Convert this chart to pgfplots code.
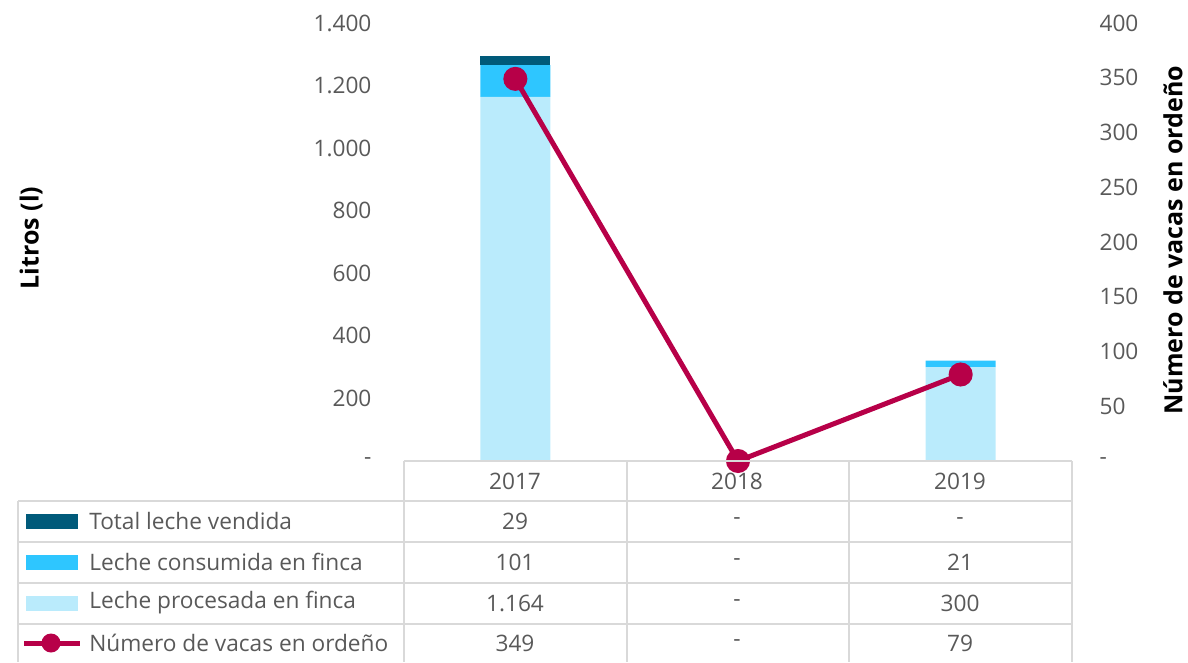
\documentclass[border=0pt]{standalone}
\usepackage{fontspec}
\setmainfont{Open Sans}
\usepackage{pgfplots}
\pgfplotsset{compat=1.18}
\definecolor{sold}{RGB}{0,90,122}
\definecolor{cons}{RGB}{46,198,255}
\definecolor{proc}{RGB}{186,235,252}
\definecolor{cows}{RGB}{183,0,72}
\definecolor{txt}{RGB}{89,89,89}
\definecolor{gridc}{RGB}{217,217,217}
\begin{document}
\begin{tikzpicture}[font=\fontsize{13.6}{16}\selectfont]
\pgfplotsset{base/.style={
  at={(242.4pt,120.6pt)}, anchor=south west,
  scale only axis, width=400.8pt, height=262.8pt,
  xmin=-0.5, xmax=2.5, xtick=\empty,
  axis line style={draw=none}, major tick length=0pt,
  clip=false,
  /pgf/number format/assume math mode=true,
  yticklabel style={text=txt, font=\fontsize{13.6}{16}\selectfont},
}}
\begin{axis}[base, ymin=0, ymax=1400,
  ytick={0,200,...,1400},
  yticklabels={-,200,400,600,800,1.000,1.200,1.400},
  yticklabel style={xshift=-16pt},
  ybar stacked, bar width=42pt]
\addplot[fill=proc, draw=none] coordinates {(0,1164) (1,0) (2,300)};
\addplot[fill=cons, draw=none] coordinates {(0,101) (1,0) (2,21)};
\addplot[fill=sold, draw=none] coordinates {(0,29) (1,0) (2,0)};
\end{axis}
\begin{axis}[base, ymin=0, ymax=400,
  ytick={0,50,...,400},
  yticklabels={-,50,100,150,200,250,300,350,400},
  yticklabel pos=right,
  yticklabel style={xshift=13pt}]
\addplot[cows, line width=3pt, mark=*, mark size=5.7pt, mark options={draw=none, fill=cows}] coordinates {(0,349) (1,0) (2,79)};
\end{axis}
\begin{scope}[x=0.6pt, y=-0.6pt, yshift=397.2pt]
  \draw[gridc, line width=1pt] (404,461) -- (1072,461);
  \foreach \yy in {501,542,583,624} \draw[gridc, line width=1pt] (18,\yy) -- (1072,\yy);
  \draw[gridc, line width=1pt] (18,501) -- (18,662);
  \foreach \xx in {404,626.7,849.3,1072} \draw[gridc, line width=1pt] (\xx,461) -- (\xx,662);
  % header
  \node[txt] at (515,481) {2017};
  \node[txt] at (737,481) {2018};
  \node[txt] at (960,481) {2019};
  % legend keys
  \fill[sold] (26,514) rectangle (78,529);
  \fill[cons] (26,555) rectangle (78,570);
  \fill[proc] (26,596) rectangle (78,611);
  \draw[cows, line width=3pt] (24,643) -- (80,643);
  \fill[cows] (51,643) circle (9.5);
  \node[txt, anchor=west, inner sep=0pt] at (89,521) {Total leche vendida};
  \node[txt, anchor=west, inner sep=0pt] at (89,562) {Leche consumida en finca};
  \node[txt, anchor=west, inner sep=0pt] at (89,603) {Leche procesada en finca};
  \node[txt, anchor=west, inner sep=0pt] at (89,643) {Número de vacas en ordeño};
  % values
  \node[txt] at (515,521) {29};
  \node[txt] at (737,521) {-};
  \node[txt] at (960,521) {-};
  \node[txt] at (515,562) {101};
  \node[txt] at (737,562) {-};
  \node[txt] at (960,562) {21};
  \node[txt] at (515,603) {1.164};
  \node[txt] at (737,603) {-};
  \node[txt] at (960,603) {300};
  \node[txt] at (515,643) {349};
  \node[txt] at (737,643) {-};
  \node[txt] at (960,643) {79};
  % axis titles
  \node[rotate=90, inner sep=0pt, font=\fontsize{15}{18}\selectfont\bfseries] at (31,238) {Litros (l)};
  \node[rotate=90, inner sep=0pt, font=\fontsize{15}{18}\selectfont\bfseries] at (1173,240) {Número de vacas en ordeño};
\end{scope}
\pgfresetboundingbox
\path[use as bounding box] (0,0) rectangle (712.8pt,397.2pt);
\end{tikzpicture}
\end{document}
